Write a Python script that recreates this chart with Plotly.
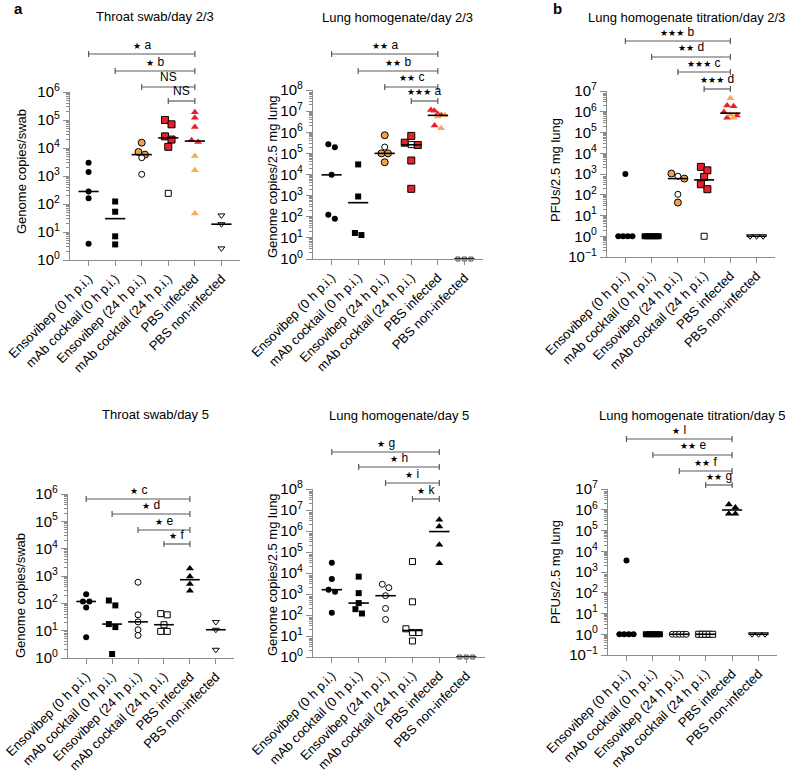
import numpy as np
import plotly.graph_objects as go

W, H = 794, 773

GROUPS = ["Ensovibep (0 h p.i.)", "mAb cocktail (0 h p.i.)", "Ensovibep (24 h p.i.)",
          "mAb cocktail (24 h p.i.)", "PBS infected", "PBS non-infected"]

# ---- a: throat swab, day 2/3 (genome copies/swab)
TS23_ENS0 = [3000, 1400, 280, 160, 3.8]
TS23_MAB0 = [123, 53, 7, 3.6]
TS23_ENS24_COL = [15500, 7200, 5800]
TS23_ENS24_OPEN = [4500, 1150]
TS23_MAB24_COL = [100000, 70000, 26000, 20000, 11000]
TS23_MAB24_OPEN = [240]
TS23_PBS_RED = [190000, 120000, 56000, 19000, 16500]
TS23_PBS_ORANGE = [5200, 1600, 46]
TS23_NON = [39, 19, 2.6]

# ---- a: lung homogenate, day 2/3 (genome copies/2.5 mg lung)
LH23_ENS0 = [270000, 195000, 9600, 124, 81]
LH23_MAB0 = [30000, 910, 17, 13.6]
LH23_ENS24_COL = [720000, 100000, 100000, 38000]
LH23_ENS24_OPEN = [200000]
LH23_MAB24_COL = [670000, 320000, 250000, 46000, 2100]
LH23_MAB24_OPEN = [260000]
LH23_PBS_RED = [11400000, 10500000, 7400000, 6300000, 2100000]
LH23_PBS_ORANGE = [6300000, 5500000, 1550000]
LH23_NON = [1, 1, 1]

# ---- b: lung homogenate titration, day 2/3 (PFUs/2.5 mg lung)
LT23_ENS0 = [1000, 1, 1, 1, 1]
LT23_MAB0 = [1, 1, 1, 1, 1, 1]
LT23_ENS24_COL = [1050, 600, 42]
LT23_ENS24_OPEN = [780, 105]
LT23_MAB24_COL = [2200, 1500, 720, 320, 185]
LT23_MAB24_OPEN = [1]
LT23_PBS_RED = [2000000, 1850000, 980000, 660000, 520000]
LT23_PBS_ORANGE = [4500000, 730000, 520000]
LT23_NON = [1, 1, 1]

# ---- throat swab, day 5
TS5_ENS0 = [217, 117, 117, 71, 5.8]
TS5_MAB0 = [127, 84, 17.4, 13.5, 1.4]
TS5_ENS24 = [590, 38, 21, 10.8, 6.7]
TS5_MAB24 = [42, 38, 16.5, 9.4, 9.4]
TS5_PBS = [1900, 950, 515, 290]
TS5_NON = [20.6, 10.8, 2.0]

# ---- lung homogenate, day 5
LH5_ENS0 = [31000, 5200, 1600, 1280, 127]
LH5_MAB0 = [6700, 1100, 370, 190, 118]
LH5_ENS24 = [2900, 2000, 830, 205, 61]
LH5_MAB24 = [35000, 425, 22, 14.6, 14.6, 5.8]
LH5_PBS = [3400000, 1660000, 220000, 29000]
LH5_NON = [1, 1, 1]

# ---- lung homogenate titration, day 5
LT5_ENS0 = [3600, 1, 1, 1, 1]
LT5_MAB0 = [1, 1, 1, 1, 1, 1]
LT5_ENS24 = [1, 1, 1, 1, 1]
LT5_MAB24 = [1, 1, 1, 1, 1]
LT5_PBS = [1800000, 1300000, 650000, 650000]
LT5_NON = [1, 1, 1]

FONT = "Liberation Sans, Arial, Helvetica, sans-serif"
RED = "#E8202A"
ORANGE = "#F3A04B"
ORANGE_T = "#F8AA55"
AXIS = "#8c8c8c"
BARC = "#5a5a5a"

STYLES = {
    'bc': dict(symbol='circle', size=6, color='black', line=dict(width=0)),
    'bs': dict(symbol='square', size=6, color='black', line=dict(width=0)),
    'oc': dict(symbol='circle', size=7, color=ORANGE, line=dict(width=1, color='black')),
    'wc': dict(symbol='circle', size=6, color='white', line=dict(width=1, color='black')),
    'rs': dict(symbol='square', size=7, color=RED, line=dict(width=1, color='black')),
    'ws': dict(symbol='square', size=6, color='white', line=dict(width=1, color='black')),
    'rt': dict(symbol='triangle-up', size=7, color=RED, line=dict(width=0)),
    'ot': dict(symbol='triangle-up', size=7, color=ORANGE_T, line=dict(width=0)),
    'bt': dict(symbol='triangle-up', size=7, color='black', line=dict(width=0)),
    'wd': dict(symbol='triangle-down', size=6, color='white', line=dict(width=1, color='black')),
    'gs': dict(symbol='square', size=4, color='#d8d8d8', line=dict(width=1, color='#555555')),
}


def stars(n, letter):
    st = '<span style="font-family:DejaVu Sans;font-size:9px">' + "\u2605" * n + '</span>'
    return st + " " + letter


PANELS = [
    dict(x=(70, 240), y=(92, 260), yr=(0, 6), title="Throat swab/day 2/3", tpos=(94, 16),
         ytitle="Genome copies/swab", ypos=(22, 172),
         series=[(0, TS23_ENS0, 'bc'), (1, TS23_MAB0, 'bs'), (2, TS23_ENS24_COL, 'oc'),
                 (2, TS23_ENS24_OPEN, 'wc'), (3, TS23_MAB24_COL, 'rs'), (3, TS23_MAB24_OPEN, 'ws'),
                 (4, TS23_PBS_RED, 'rt'), (4, TS23_PBS_ORANGE, 'ot'), (5, TS23_NON, 'wd')],
         bars=[(0, 4, stars(1, "a"), 54), (1, 4, stars(1, "b"), 71), (2, 4, "NS", 87), (3, 4, "NS", 101)]),
    dict(x=(313, 483), y=(90, 259), yr=(0, 8), title="Lung homogenate/day 2/3", tpos=(320, 18),
         ytitle="Genome copies/2.5 mg lung", ypos=(273, 177),
         series=[(0, LH23_ENS0, 'bc'), (1, LH23_MAB0, 'bs'), (2, LH23_ENS24_COL, 'oc'),
                 (2, LH23_ENS24_OPEN, 'wc'), (3, LH23_MAB24_COL, 'rs'), (3, LH23_MAB24_OPEN, 'ws'),
                 (4, LH23_PBS_RED, 'rt'), (4, LH23_PBS_ORANGE, 'ot'), (5, LH23_NON, 'gs')],
         bars=[(0, 4, stars(2, "a"), 54), (1, 4, stars(2, "b"), 71), (2, 4, stars(2, "c"), 87),
               (3, 4, stars(3, "a"), 101)]),
    dict(x=(607, 775), y=(91, 257), yr=(-1, 7), title="Lung homogenate titration/day 2/3", tpos=(586, 18),
         ytitle="PFUs/2.5 mg lung", ypos=(555, 170),
         series=[(0, LT23_ENS0, 'bc'), (1, LT23_MAB0, 'bs'), (2, LT23_ENS24_COL, 'oc'),
                 (2, LT23_ENS24_OPEN, 'wc'), (3, LT23_MAB24_COL, 'rs'), (3, LT23_MAB24_OPEN, 'ws'),
                 (4, LT23_PBS_RED, 'rt'), (4, LT23_PBS_ORANGE, 'ot'), (5, LT23_NON, 'wd')],
         bars=[(0, 4, stars(3, "b"), 41), (1, 4, stars(2, "d"), 57), (2, 4, stars(3, "c"), 72),
               (3, 4, stars(3, "d"), 89)]),
    dict(x=(68, 234), y=(494, 658), yr=(0, 6), title="Throat swab/day 5", tpos=(100, 414),
         ytitle="Genome copies/swab", ypos=(20, 596),
         series=[(0, TS5_ENS0, 'bc'), (1, TS5_MAB0, 'bs'), (2, TS5_ENS24, 'wc'),
                 (3, TS5_MAB24, 'ws'), (4, TS5_PBS, 'bt'), (5, TS5_NON, 'wd')],
         bars=[(0, 4, stars(1, "c"), 499), (1, 4, stars(1, "d"), 514), (2, 4, stars(1, "e"), 530),
               (3, 4, stars(1, "f"), 544)]),
    dict(x=(313, 485), y=(489, 657), yr=(0, 8), title="Lung homogenate/day 5", tpos=(327, 415),
         ytitle="Genome copies/2.5 mg lung", ypos=(272, 575),
         series=[(0, LH5_ENS0, 'bc'), (1, LH5_MAB0, 'bs'), (2, LH5_ENS24, 'wc'),
                 (3, LH5_MAB24, 'ws'), (4, LH5_PBS, 'bt'), (5, LH5_NON, 'gs')],
         bars=[(0, 4, stars(1, "g"), 452), (1, 4, stars(1, "h"), 467), (2, 4, stars(1, "i"), 483),
               (3, 4, stars(1, "k"), 499)]),
    dict(x=(608, 777), y=(489, 655), yr=(-1, 7), title="Lung homogenate titration/day 5", tpos=(597, 415),
         ytitle="PFUs/2.5 mg lung", ypos=(555, 572),
         series=[(0, LT5_ENS0, 'bc'), (1, LT5_MAB0, 'bs'), (2, LT5_ENS24, 'wc'),
                 (3, LT5_MAB24, 'ws'), (4, LT5_PBS, 'bt'), (5, LT5_NON, 'wd')],
         bars=[(0, 4, stars(1, "l"), 439), (1, 4, stars(2, "e"), 455), (2, 4, stars(2, "f"), 471),
               (3, 4, stars(2, "g"), 485)]),
]

XR = (-0.7, 5.7)
ROW_PX, SP_PX, MAXSPAN = 5.5, 6.5, 14.0


def swarm(vals, ppd, cat_px):
    lv = np.log10(np.asarray(vals, dtype=float))
    order = list(np.argsort(-lv, kind='stable'))
    rows, cur = [], [order[0]]
    for idx in order[1:]:
        if (lv[cur[0]] - lv[idx]) * ppd < ROW_PX:
            cur.append(idx)
        else:
            rows.append(cur)
            cur = [idx]
    rows.append(cur)
    offs = np.zeros(len(lv))
    for r in rows:
        n = len(r)
        step = SP_PX if n <= 1 else min(SP_PX, MAXSPAN / (n - 1))
        for k, idx in enumerate(r):
            offs[idx] = (k - (n - 1) / 2) * step / cat_px
    return offs


fig = go.Figure()
shapes, annotations = [], []
layout = {}


def py(v):
    return 1 - v / H


for i, P in enumerate(PANELS, start=1):
    xs = 'x' if i == 1 else f'x{i}'
    ys = 'y' if i == 1 else f'y{i}'
    xk = 'xaxis' if i == 1 else f'xaxis{i}'
    yk = 'yaxis' if i == 1 else f'yaxis{i}'
    l, r = P['x']
    t, b = P['y']
    lo, hi = P['yr']
    ppd = (b - t) / (hi - lo)
    cat_px = (r - l) / (XR[1] - XR[0])

    for g in range(6):
        items = [(v, st) for (gg, vals, st) in P['series'] if gg == g for v in vals]
        if not items:
            continue
        vals = [v for v, _ in items]
        offs = swarm(vals, ppd, cat_px)
        for st in dict.fromkeys(s for _, s in items):
            xx = [g + offs[k] for k, (v, s) in enumerate(items) if s == st]
            yy = [v for (v, s) in items if s == st]
            m = STYLES[st]
            fig.add_trace(go.Scatter(x=xx, y=yy, mode='markers', xaxis=xs, yaxis=ys,
                                     cliponaxis=False, showlegend=False, hoverinfo='skip',
                                     marker=dict(symbol=m['symbol'], size=m['size'], color=m['color'],
                                                 line=m['line'])))
    for g in range(6):
        vals = [v for (gg, vv, st) in P['series'] if gg == g for v in vv]
        if not vals:
            continue
        med = float(np.median(vals))
        fig.add_trace(go.Scatter(x=[g - 0.38, g + 0.38], y=[med, med], mode='lines',
                                 xaxis=xs, yaxis=ys, cliponaxis=False, showlegend=False,
                                 hoverinfo='skip', line=dict(color='black', width=1.6)))

    layout[xk] = dict(domain=[l / W, r / W], anchor=ys, range=list(XR), showgrid=False, zeroline=False,
                      automargin=False, ticklabeloverflow='allow',
                      showline=True, linecolor=AXIS, linewidth=1.2, ticks='outside', ticklen=5,
                      tickcolor=AXIS, tickwidth=1.2, tickmode='array', tickvals=list(range(6)),
                      ticktext=GROUPS, tickangle=-45, tickfont=dict(size=13, color='black', family=FONT))
    tv = [10.0 ** k for k in range(lo, hi + 1)]
    tt = ["10<sup>%s</sup>" % (str(k) if k >= 0 else "\u2212" + str(-k)) for k in range(lo, hi + 1)]
    minor_v = [m * 10.0 ** k for k in range(lo, hi) for m in range(2, 10)]
    layout[yk] = dict(domain=[py(b), py(t)], anchor=xs, type='log', range=[lo, hi], showgrid=False,
                      automargin=False, ticklabeloverflow='allow',
                      zeroline=False, showline=True, linecolor=AXIS, linewidth=1.2, ticks='outside',
                      ticklen=6, tickcolor=AXIS, tickwidth=1.2, tickmode='array', tickvals=tv, ticktext=tt,
                      tickfont=dict(size=15, color='black', family=FONT),
                      minor=dict(ticks='outside', ticklen=3, tickcolor=AXIS, tickwidth=0.8,
                                 tickmode='array', tickvals=minor_v))

    cap = 3.0 / H
    for (a, c, lab, ypx) in P['bars']:
        yb = py(ypx)
        shapes.append(dict(type='line', xref=xs, yref='paper', x0=a, x1=c, y0=yb, y1=yb,
                           line=dict(color=BARC, width=1.2)))
        for xe in (a, c):
            shapes.append(dict(type='line', xref=xs, yref='paper', x0=xe, x1=xe, y0=yb - cap, y1=yb + cap,
                               line=dict(color=BARC, width=1.2)))
        annotations.append(dict(x=(a + c) / 2, xref=xs, y=yb + 0.5 / H, yref='paper', text=lab,
                                showarrow=False, xanchor='center', yanchor='bottom',
                                font=dict(size=12, color='black', family=FONT)))

    annotations.append(dict(x=P['tpos'][0] / W, y=py(P['tpos'][1]), xref='paper', yref='paper',
                            text=P['title'], showarrow=False, xanchor='left', yanchor='middle',
                            font=dict(size=13, color='black', family=FONT)))
    annotations.append(dict(x=P['ypos'][0] / W, y=py(P['ypos'][1]), xref='paper', yref='paper',
                            text=P['ytitle'], showarrow=False, xanchor='center', yanchor='middle',
                            textangle=-90, font=dict(size=13, color='black', family=FONT)))

annotations.append(dict(x=18 / W, y=py(8), xref='paper', yref='paper', text="<b>a</b>", showarrow=False,
                        xanchor='center', yanchor='middle', font=dict(size=15, color='black', family=FONT)))
annotations.append(dict(x=557 / W, y=py(8), xref='paper', yref='paper', text="<b>b</b>", showarrow=False,
                        xanchor='center', yanchor='middle', font=dict(size=15, color='black', family=FONT)))

fig.update_layout(width=W, height=H, margin=dict(l=0, r=0, t=0, b=0, autoexpand=False),
                  paper_bgcolor='white', plot_bgcolor='white', showlegend=False, shapes=shapes,
                  annotations=annotations, font=dict(family=FONT, color='black'), **layout)

fig.write_html("out.html", config={'displayModeBar': False},
               post_script="document.body.style.margin='0px';")
